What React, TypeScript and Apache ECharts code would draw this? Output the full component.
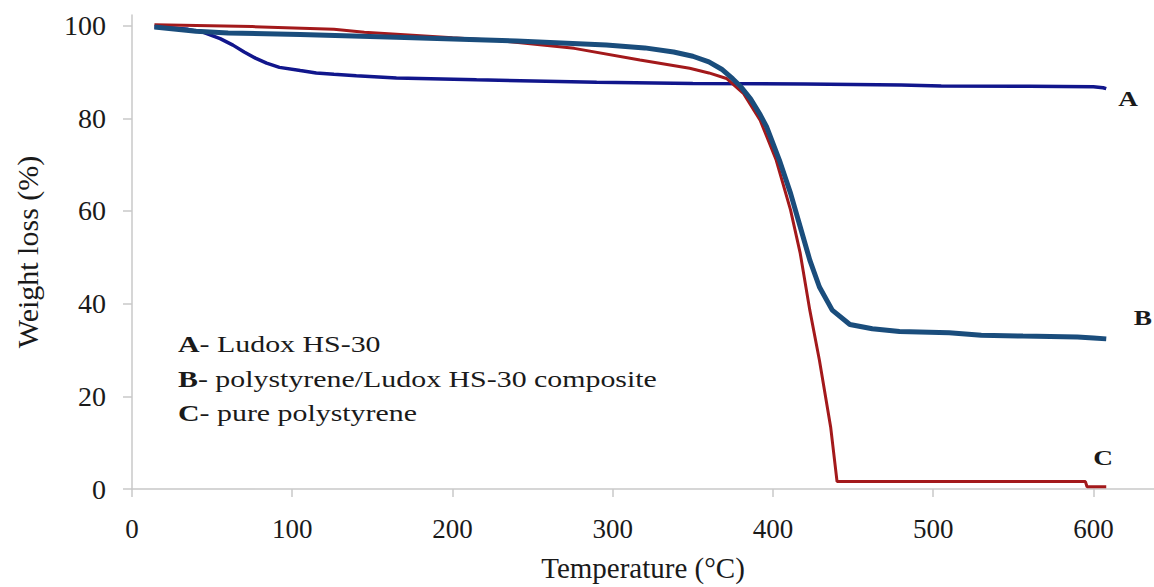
import React, { useEffect, useRef } from "react";
import * as echarts from "echarts";

const xTicks = [0, 100, 200, 300, 400, 500, 600];
const yTicks = [0, 20, 40, 60, 80, 100];

const tempA = [14, 25, 35, 45, 55, 63, 70, 77, 84, 92, 105, 115, 126, 140, 165, 215, 290, 350, 420, 480, 505, 560, 600, 606, 608];
const weightA = [99.7, 99.5, 99.2, 98.5, 97.2, 95.8, 94.3, 93.0, 91.9, 91.0, 90.3, 89.8, 89.5, 89.2, 88.7, 88.3, 87.8, 87.5, 87.4, 87.2, 87.0, 86.9, 86.8, 86.6, 86.4];

const tempB = [14, 40, 60, 105, 165, 240, 296, 320, 338, 350, 360, 368, 375, 380, 386, 392, 396, 404, 411, 417, 423, 429, 437, 448, 462, 479, 510, 530, 556, 590, 600, 608];
const weightB = [99.7, 98.8, 98.4, 98.1, 97.5, 96.7, 95.8, 95.2, 94.3, 93.4, 92.2, 90.6, 88.5, 86.8, 84.2, 80.8, 78.2, 71.0, 63.8, 56.6, 49.4, 43.6, 38.6, 35.5, 34.6, 34.0, 33.7, 33.2, 33.0, 32.8, 32.6, 32.4];

const tempC = [14, 75, 126, 145, 200, 228, 276, 317, 348, 360, 371, 381.5, 392, 402, 411, 417, 423, 429, 436, 440, 595, 596, 608];
const weightC = [100.2, 99.8, 99.2, 98.6, 97.4, 96.8, 95.1, 92.6, 90.8, 89.8, 88.6, 85.4, 79.6, 71.0, 60.2, 50.9, 38.6, 27.8, 13.4, 1.6, 1.6, 0.5, 0.5];

const seriesNames = ["A- Ludox HS-30", "B- polystyrene/Ludox HS-30 composite", "C- pure polystyrene"];
const legendLetters = ["A", "B", "C"];
const legendRest = ["- Ludox HS-30", "- polystyrene/Ludox HS-30 composite", "- pure polystyrene"];

const pairs = (xs: number[], ys: number[]) => xs.map((x, i) => [x, ys[i]]);

const FONT = "Liberation Serif";

export default function App() {
  const ref = useRef<HTMLDivElement>(null);
  useEffect(() => {
    if (!ref.current) return;
    const chart = echarts.init(ref.current, undefined, { renderer: "svg" });
    const legendY = [344, 379, 413];
    chart.setOption({
      animation: false,
      backgroundColor: "#ffffff",
      grid: { left: 132, right: 0, top: 15, bottom: 98, containLabel: false, outerBoundsMode: "none" },
      xAxis: {
        type: "value",
        min: 0,
        max: 637.8,
        name: "Temperature (°C)",
        nameLocation: "middle",
        nameGap: 64,
        nameTextStyle: { fontFamily: FONT, fontSize: 29, color: "#1a1a1a" },
        axisLine: { show: true, lineStyle: { color: "#c8c8c8", width: 1.5 } },
        axisTick: { show: true, length: 8, customValues: xTicks, lineStyle: { color: "#c8c8c8", width: 1.5 } },
        axisLabel: { customValues: xTicks, fontFamily: FONT, fontSize: 27, color: "#1a1a1a", margin: 26 },
        splitLine: { show: false },
      },
      yAxis: {
        type: "value",
        min: 0,
        max: 102.3,
        name: "Weight loss (%)",
        nameLocation: "middle",
        nameGap: 90,
        nameTextStyle: { fontFamily: FONT, fontSize: 30, color: "#1a1a1a" },
        axisLine: { show: true, lineStyle: { color: "#c8c8c8", width: 1.5 } },
        axisTick: { show: true, length: 9, customValues: yTicks, lineStyle: { color: "#c8c8c8", width: 1.5 } },
        axisLabel: { customValues: yTicks, fontFamily: FONT, fontSize: 28, color: "#1a1a1a", margin: 26 },
        splitLine: { show: false },
      },
      series: [
        {
          name: seriesNames[0],
          type: "line",
          data: pairs(tempA, weightA),
          showSymbol: false,
          lineStyle: { color: "#11168c", width: 3.5 },
          z: 2,
        },
        {
          name: seriesNames[2],
          type: "line",
          data: pairs(tempC, weightC),
          showSymbol: false,
          lineStyle: { color: "#a3191b", width: 3 },
          z: 3,
        },
        {
          name: seriesNames[1],
          type: "line",
          data: pairs(tempB, weightB),
          showSymbol: false,
          lineStyle: { color: "#1a4d7c", width: 5 },
          z: 4,
        },
      ],
      graphic: [
        ...legendLetters.map((l, i) => ({
          type: "text",
          x: 178,
          y: legendY[i],
          scaleX: 1.3,
          style: {
            text: `{b|${l}}{n|${legendRest[i]}}`,
            fontFamily: FONT,
            fontSize: 23,
            fill: "#1a1a1a",
            verticalAlign: "middle",
            rich: {
              b: { fontWeight: "bold", fontSize: 23, fontFamily: FONT, fill: "#1a1a1a" },
              n: { fontSize: 23, fontFamily: FONT, fill: "#1a1a1a" },
            },
          },
        })),
        { type: "text", x: 1128, y: 99, scaleX: 1.3, style: { text: "A", fontFamily: FONT, fontWeight: "bold", fontSize: 21, fill: "#1a1a1a", align: "center", verticalAlign: "middle" } },
        { type: "text", x: 1152, y: 318, scaleX: 1.3, style: { text: "B", fontFamily: FONT, fontWeight: "bold", fontSize: 21, fill: "#1a1a1a", align: "right", verticalAlign: "middle" } },
        { type: "text", x: 1103, y: 458, scaleX: 1.3, style: { text: "C", fontFamily: FONT, fontWeight: "bold", fontSize: 21, fill: "#1a1a1a", align: "center", verticalAlign: "middle" } },
      ],
    });
    return () => chart.dispose();
  }, []);
  return (
    <div
      ref={ref}
      style={{ position: "fixed", left: 0, top: 0, width: 1154, height: 587, background: "#fff" }}
    />
  );
}
